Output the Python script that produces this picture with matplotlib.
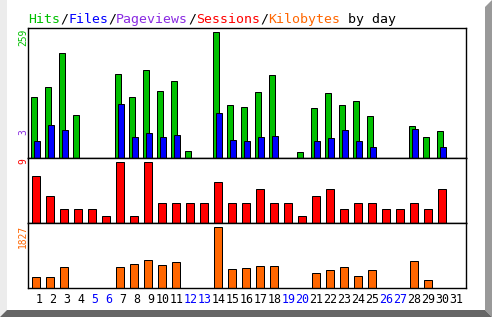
import numpy as np
import matplotlib
matplotlib.use('Agg')
import matplotlib.pyplot as plt
from matplotlib.patches import Polygon
from matplotlib.transforms import blended_transform_factory

# 每日数据
days = np.arange(1, 32)
hits = [125, 146, 216, 88, 0, 0, 174, 125, 181, 139, 158, 14, 0, 259, 109, 106,
        137, 170, 0, 12, 104, 133, 109, 117, 86, 0, 0, 65, 43, 55, 0]
files = [36, 69, 57, 0, 0, 0, 111, 43, 51, 43, 47, 0, 0, 92, 38, 36,
         43, 45, 0, 0, 36, 41, 57, 36, 22, 0, 0, 59, 0, 22, 0]
sessions = [7, 4, 2, 2, 2, 1, 9, 1, 9, 3, 3, 3, 3, 6, 3, 3,
            5, 3, 3, 1, 4, 5, 2, 3, 3, 2, 2, 3, 2, 5, 0]
kbytes = [329, 329, 629, 0, 0, 0, 629, 729, 838, 689, 778, 0, 0, 1827, 569, 599,
          659, 659, 0, 0, 449, 539, 629, 359, 539, 0, 0, 808, 240, 0, 0]
weekend = [5, 6, 12, 13, 19, 20, 26, 27]

c_hits = '#00c000'
c_files = '#0000ff'
c_pages = '#8a2be2'
c_sess = '#ff0000'
c_kb = '#ff6600'

W, H = 492, 317
fig = plt.figure(figsize=(W / 100, H / 100), dpi=100)
fig.patch.set_facecolor('white')

def px_axes(top, bottom):
    return fig.add_axes([28 / W, (H - bottom) / H, 438 / W, (bottom - top) / H])

mono = 'DejaVu Sans Mono'
xl = (0.414, 31.7)
lw = 0.72

ax1 = px_axes(28, 158)
ax2 = px_axes(158, 223)
ax3 = px_axes(223, 288)

ax1.bar(days - 0.135, hits, width=0.43, color=c_hits, edgecolor='black', linewidth=lw)
ax1.bar(days + 0.08, files, width=0.43, color=c_files, edgecolor='black', linewidth=lw)
ax1.set_ylim(0, 259 * 130 / 125.7)

ax2.bar(days, sessions, width=0.58, color=c_sess, edgecolor='black', linewidth=lw)
ax2.set_ylim(0, 9 * 65 / 61)

ax3.bar(days, kbytes, width=0.58, color=c_kb, edgecolor='black', linewidth=lw)
ax3.set_ylim(0, 1827 * 65 / 61)

for ax in (ax1, ax2, ax3):
    ax.set_xlim(*xl)
    ax.set_xticks([])
    ax.set_yticks([])
    for s in ax.spines.values():
        s.set_linewidth(1.0)
        s.set_color('black')

# 日期标签
tr = blended_transform_factory(ax3.transData, fig.transFigure)
for d in days:
    off = 0.2 if d < 10 else 0.0
    ax3.text(d + off, (H - 302.7) / H, str(d), transform=tr, ha='center', va='baseline',
             family=mono, fontsize=8.4, color='#0000ff' if d in weekend else 'black')

# 标题（多色）
parts = [('Hits', c_hits), ('/', 'black'), ('Files', c_files), ('/', 'black'),
         ('Pageviews', c_pages), ('/', 'black'), ('Sessions', c_sess), ('/', 'black'),
         ('Kilobytes', c_kb), (' by day', 'black')]
k = 0
for txt, col in parts:
    fig.text((28 + 8 * k) / W, (H - 22.7) / H, txt, color=col, family=mono,
             fontsize=9.57, ha='left', va='baseline')
    k += len(txt)

# 左侧竖排最大值
ylabs = [('259', c_hits, 29), ('3', c_pages, 129), ('9', c_sess, 158.5), ('1827', c_kb, 225)]
for t, col, y in ylabs:
    fig.text(23 / W, (H - y) / H, t, color=col, family=mono, fontsize=6.9,
             rotation=90, ha='center', va='top')

# 立体边框
def poly(pts, col):
    fig.patches.append(Polygon([(x / W, 1 - y / H) for x, y in pts], closed=True,
                               transform=fig.transFigure, facecolor=col, edgecolor='none'))

poly([(0, 0), (7, 0), (7, 310), (0, 317)], '#ececec')
poly([(485, 7), (492, 0), (492, 317), (485, 310)], '#999999')
poly([(0, 317), (7, 310), (485, 310), (492, 317)], '#666666')

fig.savefig('out.png', dpi=100)
